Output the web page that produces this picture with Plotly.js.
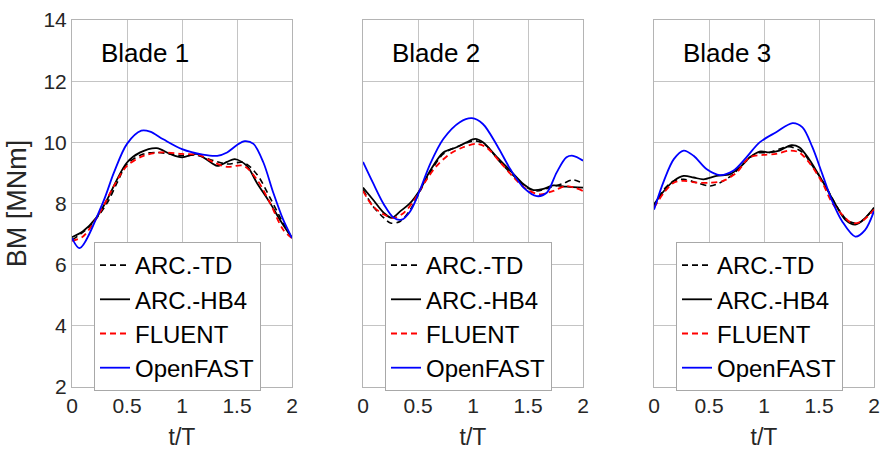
<!DOCTYPE html>
<html>
<head>
<meta charset="utf-8">
<script src="https://cdn.plot.ly/plotly-3.0.1.min.js"></script>
<style>html,body{margin:0;padding:0;background:#fff;}#chart{width:882px;height:450px;}</style>
</head>
<body>
<div id="chart"></div>
<script>
// ---- Data ----
const seriesNames = ['ARC.-TD', 'ARC.-HB4', 'FLUENT', 'OpenFAST'];
const panelTitles = ['Blade 1', 'Blade 2', 'Blade 3'];
const xTickVals = [0, 0.5, 1, 1.5, 2];
const xTickText = ['0', '0.5', '1', '1.5', '2'];
const yTickVals = [2, 4, 6, 8, 10, 12, 14];

// Blade 1
const p1_td_t = [0, 0.16, 0.32, 0.41, 0.5, 0.65, 0.77, 0.89, 1.0, 1.13, 1.29, 1.41, 1.56, 1.68, 1.8, 1.92, 2];
const p1_td   = [6.80, 7.25, 8.02, 8.68, 9.29, 9.62, 9.67, 9.62, 9.56, 9.58, 9.40, 9.29, 9.34, 8.96, 8.19, 7.36, 6.87];
const p1_hb_t = [0, 0.1, 0.22, 0.32, 0.41, 0.5, 0.62, 0.77, 0.89, 1.0, 1.13, 1.22, 1.32, 1.41, 1.48, 1.59, 1.68, 1.8, 1.89, 2];
const p1_hb   = [6.90, 7.09, 7.53, 8.13, 8.79, 9.34, 9.67, 9.81, 9.62, 9.51, 9.62, 9.45, 9.23, 9.36, 9.45, 9.23, 8.68, 8.02, 7.47, 6.87];
const p1_fl_t = [0, 0.1, 0.26, 0.38, 0.5, 0.65, 0.8, 1.0, 1.16, 1.29, 1.41, 1.56, 1.68, 1.8, 1.92, 2];
const p1_fl   = [6.78, 6.92, 7.75, 8.57, 9.23, 9.56, 9.67, 9.62, 9.58, 9.34, 9.20, 9.23, 8.79, 8.02, 7.14, 6.87];
const p1_of_t = [0, 0.07, 0.28, 0.38, 0.5, 0.63, 0.71, 0.83, 1.0, 1.19, 1.32, 1.41, 1.5, 1.57, 1.65, 1.74, 1.83, 1.92, 2];
const p1_of   = [6.87, 6.54, 8.02, 9.0, 9.95, 10.38, 10.35, 10.1, 9.78, 9.6, 9.56, 9.67, 9.91, 10.04, 9.95, 9.34, 8.35, 7.47, 6.87];

// Blade 2
const p2_td_t = [0, 0.09, 0.19, 0.25, 0.34, 0.43, 0.52, 0.61, 0.73, 0.88, 1.02, 1.12, 1.25, 1.37, 1.49, 1.58, 1.7, 1.82, 1.91, 2];
const p2_td   = [8.46, 7.91, 7.53, 7.36, 7.42, 7.80, 8.41, 9.01, 9.62, 9.89, 10.05, 9.89, 9.34, 8.90, 8.52, 8.41, 8.52, 8.66, 8.77, 8.66];
const p2_hb_t = [0, 0.09, 0.19, 0.26, 0.34, 0.43, 0.52, 0.61, 0.73, 0.85, 0.94, 1.02, 1.09, 1.22, 1.34, 1.46, 1.55, 1.64, 1.73, 1.85, 2];
const p2_hb   = [8.52, 8.13, 7.69, 7.53, 7.75, 8.02, 8.46, 9.07, 9.67, 9.84, 10.0, 10.11, 10.0, 9.51, 9.07, 8.63, 8.44, 8.48, 8.59, 8.55, 8.52];
const p2_fl_t = [0, 0.09, 0.19, 0.28, 0.37, 0.46, 0.55, 0.67, 0.79, 0.91, 1.03, 1.12, 1.25, 1.37, 1.49, 1.61, 1.73, 1.85, 2];
const p2_fl   = [8.41, 7.91, 7.64, 7.53, 7.69, 8.08, 8.63, 9.23, 9.62, 9.84, 9.95, 9.84, 9.34, 8.85, 8.46, 8.30, 8.41, 8.57, 8.41];
const p2_of_t = [0, 0.09, 0.19, 0.28, 0.35, 0.43, 0.52, 0.61, 0.73, 0.88, 0.99, 1.09, 1.22, 1.34, 1.46, 1.58, 1.67, 1.76, 1.85, 1.91, 2];
const p2_of   = [9.36, 8.68, 7.97, 7.53, 7.47, 7.75, 8.46, 9.29, 10.11, 10.66, 10.79, 10.6, 9.89, 9.12, 8.52, 8.24, 8.35, 9.01, 9.51, 9.56, 9.40];

// Blade 3
const p3_td_t = [0, 0.09, 0.18, 0.27, 0.39, 0.51, 0.6, 0.72, 0.81, 0.93, 1.05, 1.14, 1.23, 1.35, 1.44, 1.56, 1.68, 1.77, 1.86, 1.95, 2];
const p3_td   = [7.91, 8.46, 8.74, 8.79, 8.68, 8.57, 8.68, 8.96, 9.29, 9.64, 9.67, 9.78, 9.86, 9.67, 9.23, 8.57, 7.80, 7.42, 7.36, 7.64, 7.86];
const p3_hb_t = [0, 0.09, 0.18, 0.27, 0.36, 0.45, 0.57, 0.69, 0.78, 0.87, 0.96, 1.05, 1.14, 1.25, 1.32, 1.41, 1.53, 1.65, 1.74, 1.83, 1.92, 2];
const p3_hb   = [7.97, 8.41, 8.74, 8.90, 8.85, 8.79, 8.90, 8.96, 9.18, 9.51, 9.70, 9.67, 9.73, 9.91, 9.84, 9.45, 8.74, 7.97, 7.47, 7.31, 7.53, 7.86];
const p3_fl_t = [0, 0.09, 0.18, 0.27, 0.39, 0.51, 0.63, 0.75, 0.87, 0.99, 1.11, 1.23, 1.32, 1.41, 1.53, 1.62, 1.71, 1.8, 1.89, 2];
const p3_fl   = [7.86, 8.35, 8.68, 8.74, 8.68, 8.68, 8.74, 9.01, 9.51, 9.59, 9.62, 9.73, 9.67, 9.34, 8.68, 8.02, 7.64, 7.36, 7.42, 7.80];
const p3_of_t = [0, 0.09, 0.18, 0.27, 0.36, 0.48, 0.6, 0.72, 0.84, 0.96, 1.11, 1.26, 1.35, 1.44, 1.53, 1.62, 1.71, 1.83, 1.92, 2];
const p3_of   = [7.80, 8.74, 9.45, 9.73, 9.56, 9.12, 8.93, 9.07, 9.51, 10.0, 10.33, 10.63, 10.49, 9.84, 8.96, 8.08, 7.42, 6.92, 7.14, 7.75];

// ---- Styling ----
const FONT = 'Liberation Sans, Arial, Helvetica, sans-serif';
const styles = [
  {color: '#000000', width: 1.6, dash: '6px,4px'},
  {color: '#000000', width: 1.8, dash: 'solid'},
  {color: '#ff0000', width: 1.8, dash: '6px,4px'},
  {color: '#0000ff', width: 1.8, dash: 'solid'}
];

const panels = [
  [[p1_td_t, p1_td], [p1_hb_t, p1_hb], [p1_fl_t, p1_fl], [p1_of_t, p1_of]],
  [[p2_td_t, p2_td], [p2_hb_t, p2_hb], [p2_fl_t, p2_fl], [p2_of_t, p2_of]],
  [[p3_td_t, p3_td], [p3_hb_t, p3_hb], [p3_fl_t, p3_fl], [p3_of_t, p3_of]]
];

const W = 882, H = 450;
const panelLeft = [72, 363, 654];
const panelW = 220;
const yTop = 20, yBot = 387;

const traces = [];
panels.forEach((p, i) => {
  const sfx = i === 0 ? '' : String(i + 1);
  p.forEach((s, j) => {
    traces.push({
      x: s[0], y: s[1],
      type: 'scatter', mode: 'lines',
      name: seriesNames[j],
      xaxis: 'x' + sfx, yaxis: 'y' + sfx,
      legend: 'legend' + sfx,
      line: {color: styles[j].color, width: styles[j].width, dash: styles[j].dash, shape: 'spline', smoothing: 0.9},
      hoverinfo: 'skip'
    });
  });
});

const layout = {
  width: W, height: H,
  margin: {l: 0, r: 0, t: 0, b: 0},
  paper_bgcolor: '#ffffff', plot_bgcolor: '#ffffff',
  font: {family: FONT, color: '#262626'},
  showlegend: true,
  annotations: []
};

panels.forEach((p, i) => {
  const sfx = i === 0 ? '' : String(i + 1);
  const x0 = panelLeft[i] / W, x1 = (panelLeft[i] + panelW) / W;
  layout['xaxis' + sfx] = {
    domain: [x0, x1], range: [0, 2], anchor: 'y' + sfx,
    tickvals: xTickVals, ticktext: xTickText,
    showgrid: true, gridcolor: '#c4c4c4', gridwidth: 1,
    showline: true, linecolor: '#b4b4b4', linewidth: 1, mirror: true,
    zeroline: false, ticks: '',
    tickfont: {size: 21, color: '#262626', family: FONT},
    title: {text: 't/T', font: {size: 23, color: '#262626', family: FONT}, standoff: 14},
    fixedrange: true
  };
  layout['yaxis' + sfx] = {
    domain: [1 - yBot / H, 1 - yTop / H], range: [2, 14], anchor: 'x' + sfx,
    tickvals: yTickVals,
    showticklabels: i === 0,
    showgrid: true, gridcolor: '#c4c4c4', gridwidth: 1,
    showline: true, linecolor: '#b4b4b4', linewidth: 1, mirror: true,
    zeroline: false, ticks: '',
    tickfont: {size: 21, color: '#262626', family: FONT},
    title: i === 0 ? {text: 'BM [MNm]', font: {size: 27, color: '#262626', family: FONT}, standoff: 8} : {text: ''},
    fixedrange: true
  };
  layout['legend' + sfx] = {
    x: (panelLeft[i] + 22) / W, y: 1 - 242 / H,
    xanchor: 'left', yanchor: 'top',
    bgcolor: '#ffffff', bordercolor: '#a8a8a8', borderwidth: 1,
    font: {size: 24, color: '#000000', family: FONT},
    tracegroupgap: 0, itemwidth: 30
  };
  layout.annotations.push({
    text: panelTitles[i], xref: 'paper', yref: 'paper',
    x: (panelLeft[i] + 27) / W, y: 1 - 53 / H,
    xanchor: 'left', yanchor: 'middle', showarrow: false,
    font: {size: 26, color: '#000000', family: FONT}
  });
});

Plotly.newPlot('chart', traces, layout, {displayModeBar: false, staticPlot: true});
</script>
</body>
</html>
